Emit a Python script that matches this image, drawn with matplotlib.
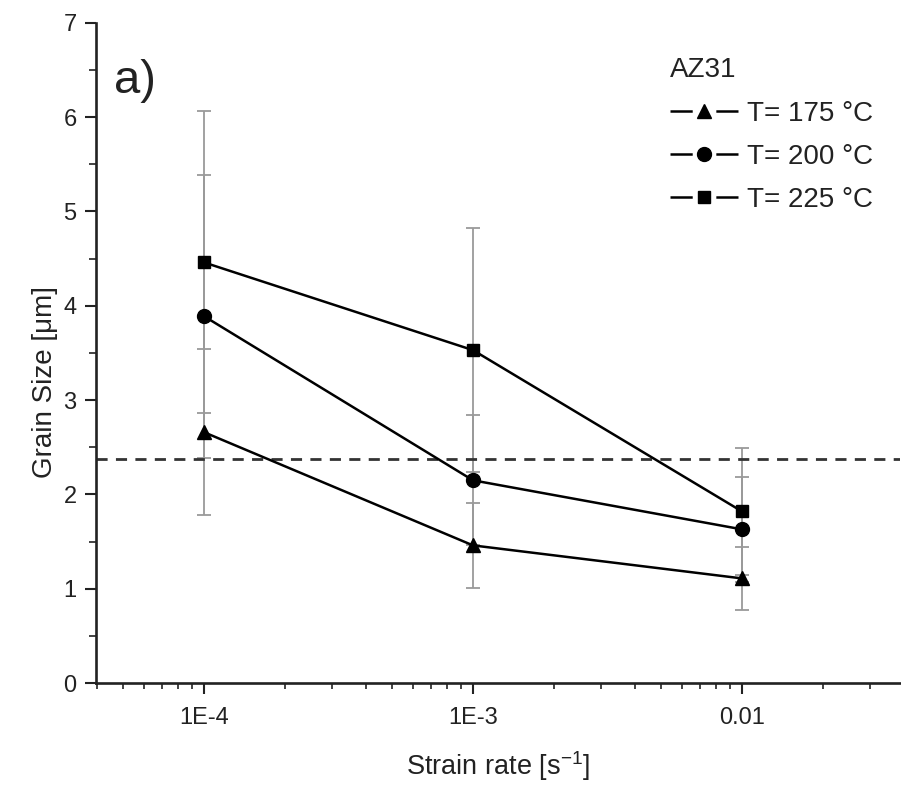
import matplotlib
matplotlib.use("Agg")
import matplotlib.pyplot as plt
from matplotlib.lines import Line2D
from matplotlib.legend_handler import HandlerTuple
from matplotlib.ticker import FixedLocator, LogLocator, NullFormatter, MultipleLocator

plt.rcParams['font.family'] = ['Liberation Sans', 'DejaVu Sans']

strain_rates = [1e-4, 1e-3, 1e-2]
x_tick_labels = ["1E-4", "1E-3", "0.01"]
series_labels = ["T= 175 \u00b0C", "T= 200 \u00b0C", "T= 225 \u00b0C"]
grain_175 = [2.66, 1.46, 1.11]
err_175 = [0.88, 0.45, 0.33]
grain_200 = [3.89, 2.15, 1.63]
err_200 = [1.50, 0.69, 0.56]
grain_225 = [4.46, 3.53, 1.82]
err_225 = [1.60, 1.29, 0.67]
reference_level = 2.38

TXT = '#222222'
LW = 1.8
fig = plt.figure(figsize=(9.01, 7.87), dpi=100)
ax = fig.add_axes([0.1066, 0.132, 0.8924, 0.839])

markers = ['^', 'o', 's']
handles = []
for vals, errs, mk in zip([grain_175, grain_200, grain_225],
                          [err_175, err_200, err_225], markers):
    ax.errorbar(strain_rates, vals, yerr=errs, fmt='none', ecolor='#9a9a9a',
                elinewidth=1.3, capsize=5, capthick=1.3, zorder=1)
    ms = 10 if mk != 's' else 9
    ax.plot(strain_rates, vals, color='black', marker=mk, markersize=ms,
            linewidth=LW, zorder=3)
    seg = Line2D([], [], color='black', linewidth=LW, linestyle=(0, (16 / LW, 17 / LW)))
    mark = Line2D([], [], color='black', marker=mk, markersize=ms, linestyle='none')
    handles.append((seg, mark))

ax.axhline(reference_level, color='#333333', linestyle=(0, (4, 3)), linewidth=2, zorder=2)

ax.set_xscale('log')
ax.set_xlim(3.97e-5, 0.0387)
ax.set_ylim(0, 7)

ax.xaxis.set_major_locator(FixedLocator(strain_rates))
ax.set_xticklabels(x_tick_labels)
ax.xaxis.set_minor_locator(LogLocator(base=10, subs=range(2, 10)))
ax.xaxis.set_minor_formatter(NullFormatter())
ax.yaxis.set_major_locator(MultipleLocator(1))
ax.yaxis.set_minor_locator(MultipleLocator(0.5))

ax.tick_params(axis='both', which='major', direction='out', length=8, width=1.5,
               labelsize=17, colors=TXT)
ax.tick_params(axis='x', which='major', pad=9)
ax.tick_params(axis='y', which='major', pad=6)
ax.tick_params(axis='x', which='minor', direction='out', length=4, width=1.2, colors=TXT)
ax.tick_params(axis='y', which='minor', direction='out', length=5, width=1.2, colors=TXT)

for s in ['top', 'right']:
    ax.spines[s].set_visible(False)
for s in ['left', 'bottom']:
    ax.spines[s].set_linewidth(1.9)
    ax.spines[s].set_color(TXT)

ax.set_xlabel("Strain rate [s$^{\\mathregular{-1}}$]", fontsize=19.5, color=TXT)
ax.xaxis.set_label_coords(0.5, -0.1)
ax.set_ylabel("Grain Size [\u03bcm]", fontsize=20, color=TXT)
ax.yaxis.set_label_coords(-0.047, 0.456)

ax.text(0.022, 0.945, "a)", transform=ax.transAxes, fontsize=34, va='top', ha='left', color=TXT)

leg = ax.legend(handles, series_labels, title="AZ31", loc='upper left',
                bbox_to_anchor=(0.703, 0.961), frameon=False,
                fontsize=20, title_fontsize=20, handlelength=2.45, handletextpad=0.33,
                labelspacing=0.62, alignment='left', borderaxespad=0, borderpad=0.32,
                numpoints=1, handler_map={tuple: HandlerTuple(ndivide=1, pad=0)})
for t in leg.get_texts():
    t.set_color(TXT)
leg.get_title().set_color(TXT)

fig.savefig("out.png", dpi=100)
